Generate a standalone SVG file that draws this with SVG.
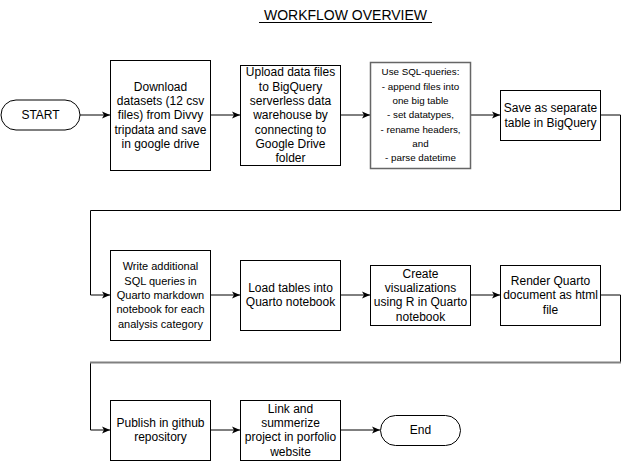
<svg xmlns="http://www.w3.org/2000/svg" width="629" height="461" viewBox="0 0 629 461">
<style>
.box{fill:#fff;stroke:#000;stroke-width:1}
.t{font-family:"Liberation Sans",Arial,sans-serif;font-size:12px;fill:#000;text-anchor:middle}
.s{font-size:11px}
.xs{font-size:9.8px}
.c{fill:none;stroke:#000;stroke-width:1}
</style>
<defs>
<marker id="ah" markerUnits="userSpaceOnUse" markerWidth="10" markerHeight="10" refX="8" refY="4" orient="auto">
<path d="M0,0.5 L8,4 L0,7.5 L2,4 Z" fill="#000"/>
</marker>
</defs>
<rect width="629" height="461" fill="#fff"/>
<g id="title">
<text class="t" x="345.5" y="20" style="font-size:14px">WORKFLOW OVERVIEW</text>
<line x1="259" y1="22.5" x2="432" y2="22.5" stroke="#000" stroke-width="1"/>
</g>
<g id="connectors">
<path class="c" d="M80,115 H110" marker-end="url(#ah)"/>
<path class="c" d="M210,115 H240" marker-end="url(#ah)"/>
<path class="c" d="M340,115 H370" marker-end="url(#ah)"/>
<path class="c" d="M470,115 H500" marker-end="url(#ah)"/>
<path class="c" d="M600,115 H620.5 V210.5 H90.5 V295 H110" marker-end="url(#ah)"/>
<path class="c" d="M210,295 H240" marker-end="url(#ah)"/>
<path class="c" d="M340,295 H370" marker-end="url(#ah)"/>
<path class="c" d="M470,295 H500" marker-end="url(#ah)"/>
<path class="c" d="M600,295 H620.5 V362.5 H90.5 V430 H110" marker-end="url(#ah)"/>
<line x1="90" y1="362.5" x2="621" y2="362.5" stroke="#808080" stroke-width="2"/>
<path class="c" d="M210,430 H240" marker-end="url(#ah)"/>
<path class="c" d="M340,430 H380" marker-end="url(#ah)"/>
</g>
<g id="start">
<rect class="box" x="1" y="100" width="79" height="30" rx="15" ry="15"/>
<text class="t" x="40.5" y="119.2">START</text>
</g>
<g id="download">
<rect class="box" x="110.5" y="60.5" width="100" height="110"/>
<text class="t" x="160.5" y="90.6">Download</text>
<text class="t" x="160.5" y="104.9">datasets (12 csv</text>
<text class="t" x="160.5" y="119.2">files) from Divvy</text>
<text class="t" x="160.5" y="133.5">tripdata and save</text>
<text class="t" x="160.5" y="147.8">in google drive</text>
</g>
<g id="upload">
<rect class="box" x="240.5" y="65.5" width="100" height="100"/>
<text class="t" x="290.5" y="76.3">Upload data files</text>
<text class="t" x="290.5" y="90.6">to BigQuery</text>
<text class="t" x="290.5" y="104.9">serverless data</text>
<text class="t" x="290.5" y="119.2">warehouse by</text>
<text class="t" x="290.5" y="133.5">connecting to</text>
<text class="t" x="290.5" y="147.8">Google Drive</text>
<text class="t" x="290.5" y="162.1">folder</text>
</g>
<g id="sql">
<rect x="370.5" y="62.5" width="100" height="106" fill="#fff" stroke="#666" stroke-width="1.5"/>
<text class="t xs" x="420.5" y="75.4">Use SQL-queries:</text>
<text class="t xs" x="420.5" y="89.7">- append files into</text>
<text class="t xs" x="420.5" y="104">one big table</text>
<text class="t xs" x="420.5" y="118.3">- set datatypes,</text>
<text class="t xs" x="420.5" y="132.6">- rename headers,</text>
<text class="t xs" x="420.5" y="146.9">and</text>
<text class="t xs" x="420.5" y="161.2">- parse datetime</text>
</g>
<g id="save">
<rect class="box" x="500.5" y="90.5" width="100" height="50"/>
<text class="t" x="550.5" y="111.7">Save as separate</text>
<text class="t" x="550.5" y="127">table in BigQuery</text>
</g>
<g id="write">
<rect class="box" x="110.5" y="250.5" width="100" height="90"/>
<text class="t s" x="160.5" y="270.3">Write additional</text>
<text class="t s" x="160.5" y="284.6">SQL queries in</text>
<text class="t s" x="160.5" y="298.9">Quarto markdown</text>
<text class="t s" x="160.5" y="313.2">notebook for each</text>
<text class="t s" x="160.5" y="327.5">analysis category</text>
</g>
<g id="load">
<rect class="box" x="240.5" y="260.5" width="100" height="70"/>
<text class="t" x="290.5" y="292.1">Load tables into</text>
<text class="t" x="290.5" y="306.4">Quarto notebook</text>
</g>
<g id="visualize">
<rect class="box" x="370.5" y="265.5" width="100" height="60"/>
<text class="t" x="420.5" y="277.8">Create</text>
<text class="t" x="420.5" y="292.1">visualizations</text>
<text class="t" x="420.5" y="306.4">using R in Quarto</text>
<text class="t" x="420.5" y="320.7">notebook</text>
</g>
<g id="render">
<rect class="box" x="500.5" y="265.5" width="100" height="60"/>
<text class="t" x="550.5" y="284.9">Render Quarto</text>
<text class="t" x="550.5" y="299.2">document as html</text>
<text class="t" x="550.5" y="313.5">file</text>
</g>
<g id="publish">
<rect class="box" x="110.5" y="400.5" width="100" height="60"/>
<text class="t" x="160.5" y="427.1">Publish in github</text>
<text class="t" x="160.5" y="441.4">repository</text>
</g>
<g id="link">
<rect class="box" x="240.5" y="400.5" width="100" height="60"/>
<text class="t" x="290.5" y="412.8">Link and</text>
<text class="t" x="290.5" y="427.1">summerize</text>
<text class="t" x="290.5" y="441.4">project in porfolio</text>
<text class="t" x="290.5" y="455.7">website</text>
</g>
<g id="end">
<rect class="box" x="380.5" y="415.5" width="80" height="30" rx="15" ry="15"/>
<text class="t" x="420.5" y="434.2">End</text>
</g>
</svg>
